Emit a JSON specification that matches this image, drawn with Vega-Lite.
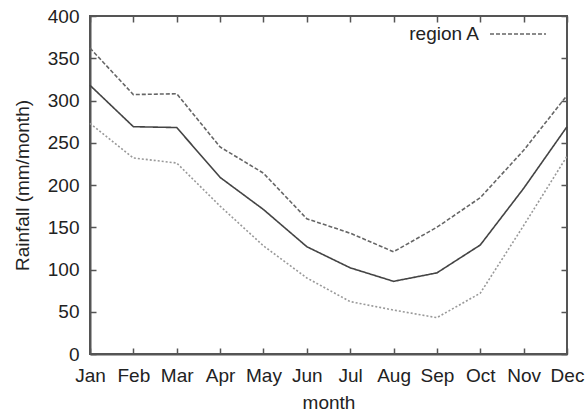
{
  "$schema": "https://vega.github.io/schema/vega-lite/v6.json",
  "width": 477,
  "height": 338,
  "autosize": "none",
  "padding": {"left": 90, "top": 16, "right": 20, "bottom": 60},
  "background": "white",
  "config": {
    "font": "Liberation Sans",
    "view": {"stroke": "#555", "strokeWidth": 2},
    "axis": {
      "labelFont": "Liberation Sans",
      "labelFontSize": 19,
      "labelColor": "#222",
      "titleFont": "Liberation Sans",
      "titleFontSize": 19,
      "titleFontWeight": "normal",
      "titleColor": "#222",
      "domainColor": "#555",
      "domainWidth": 2,
      "tickColor": "#555",
      "tickWidth": 1.5,
      "grid": false
    }
  },
  "data": {
    "values": [
      {"month": "Jan", "series": "region A", "value": 362},
      {"month": "Feb", "series": "region A", "value": 307},
      {"month": "Mar", "series": "region A", "value": 308},
      {"month": "Apr", "series": "region A", "value": 245},
      {"month": "May", "series": "region A", "value": 214},
      {"month": "Jun", "series": "region A", "value": 160},
      {"month": "Jul", "series": "region A", "value": 143},
      {"month": "Aug", "series": "region A", "value": 121},
      {"month": "Sep", "series": "region A", "value": 150},
      {"month": "Oct", "series": "region A", "value": 185},
      {"month": "Nov", "series": "region A", "value": 241},
      {"month": "Dec", "series": "region A", "value": 306},
      {"month": "Jan", "series": "mean", "value": 318},
      {"month": "Feb", "series": "mean", "value": 269},
      {"month": "Mar", "series": "mean", "value": 268},
      {"month": "Apr", "series": "mean", "value": 209},
      {"month": "May", "series": "mean", "value": 171},
      {"month": "Jun", "series": "mean", "value": 127},
      {"month": "Jul", "series": "mean", "value": 102},
      {"month": "Aug", "series": "mean", "value": 86},
      {"month": "Sep", "series": "mean", "value": 96},
      {"month": "Oct", "series": "mean", "value": 129},
      {"month": "Nov", "series": "mean", "value": 196},
      {"month": "Dec", "series": "mean", "value": 269},
      {"month": "Jan", "series": "lower", "value": 273},
      {"month": "Feb", "series": "lower", "value": 232},
      {"month": "Mar", "series": "lower", "value": 226},
      {"month": "Apr", "series": "lower", "value": 175},
      {"month": "May", "series": "lower", "value": 128},
      {"month": "Jun", "series": "lower", "value": 90},
      {"month": "Jul", "series": "lower", "value": 62},
      {"month": "Aug", "series": "lower", "value": 52},
      {"month": "Sep", "series": "lower", "value": 43},
      {"month": "Oct", "series": "lower", "value": 72},
      {"month": "Nov", "series": "lower", "value": 152},
      {"month": "Dec", "series": "lower", "value": 234}
    ]
  },
  "layer": [
    {
      "mark": {"type": "line", "strokeWidth": 1.6},
      "encoding": {
        "x": {
          "field": "month", "type": "ordinal",
          "sort": ["Jan","Feb","Mar","Apr","May","Jun","Jul","Aug","Sep","Oct","Nov","Dec"],
          "scale": {"type": "point", "padding": 0},
          "axis": {"orient": "bottom", "title": "month", "labelAngle": 0, "tickSize": -6, "labelPadding": 18, "titlePadding": 8}
        },
        "y": {
          "field": "value", "type": "quantitative",
          "scale": {"domain": [0, 400], "nice": false},
          "axis": {"title": "Rainfall (mm/month)", "values": [0,50,100,150,200,250,300,350,400], "tickSize": -6, "labelPadding": 17, "titlePadding": 15}
        },
        "color": {
          "field": "series", "type": "nominal",
          "scale": {"domain": ["region A", "mean", "lower"], "range": ["#666666", "#444444", "#999999"]},
          "legend": {
            "values": ["region A"],
            "title": null,
            "orient": "none",
            "legendX": 399,
            "legendY": -11,
            "padding": 0,
            "symbolType": "stroke",
            "symbolSize": 3136,
            "symbolStrokeWidth": 1.6,
            "symbolDash": [4, 2],
            "labelAlign": "right",
            "labelOffset": -68,
            "labelFontSize": 19,
            "labelFont": "Liberation Sans",
            "labelColor": "#222"
          }
        },
        "strokeDash": {
          "field": "series", "type": "nominal",
          "scale": {"domain": ["region A", "mean", "lower"], "range": [[4, 2], [1, 0], [2, 2]]},
          "legend": null
        }
      }
    },
    {
      "mark": {"type": "line", "opacity": 0},
      "encoding": {
        "x": {
          "field": "month", "type": "ordinal",
          "sort": ["Jan","Feb","Mar","Apr","May","Jun","Jul","Aug","Sep","Oct","Nov","Dec"],
          "scale": {"type": "point", "padding": 0},
          "axis": {"orient": "top", "title": null, "labels": false, "domain": false, "tickSize": -6}
        },
        "y": {
          "field": "value", "type": "quantitative",
          "scale": {"domain": [0, 400], "nice": false},
          "axis": {"orient": "right", "title": null, "labels": false, "domain": false, "values": [0,50,100,150,200,250,300,350,400], "tickSize": -6}
        },
        "detail": {"field": "series"}
      }
    }
  ],
  "resolve": {"axis": {"x": "independent", "y": "independent"}}
}
